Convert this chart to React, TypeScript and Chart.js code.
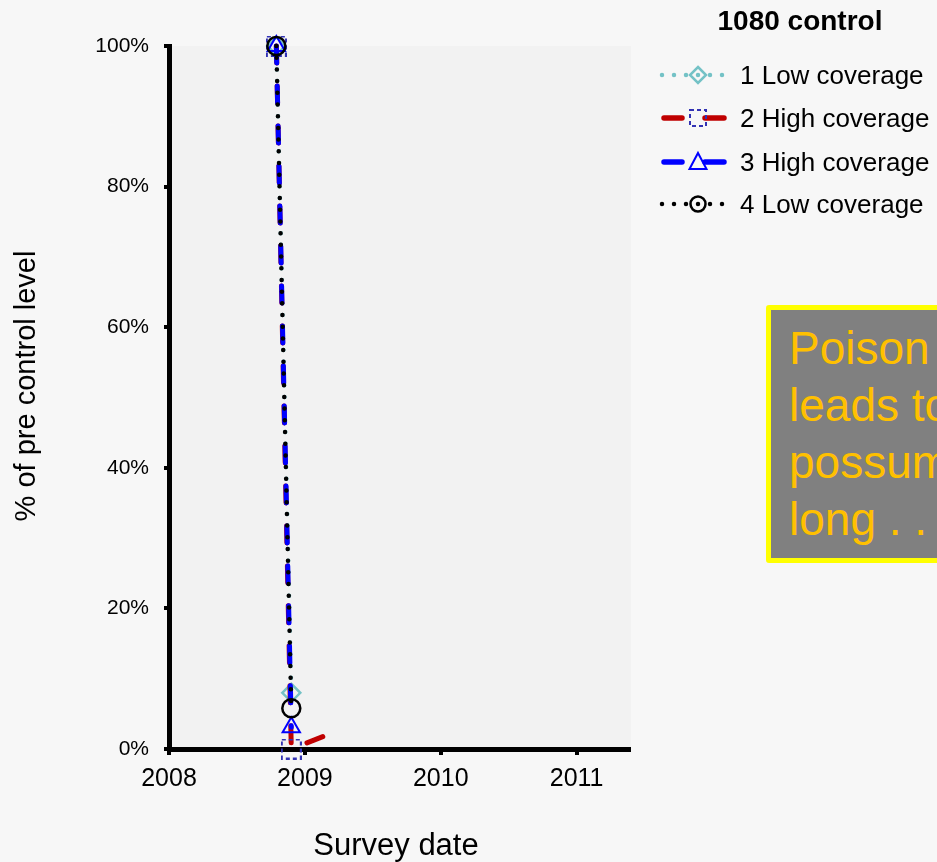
import React, { useEffect, useRef } from 'react';
import { Chart, registerables } from 'chart.js';

Chart.register(...registerables);

// Survey dates are decimal years; values are % of the pre-control level.
const seriesNames = ['1 Low coverage', '2 High coverage', '3 High coverage', '4 Low coverage'];
const site1Dates = [2008.79, 2008.9];
const site1Values = [100, 8.0];
const site2Dates = [2008.79, 2008.9, 2009.15];
const site2Values = [100, 0, 1.9];
const site3Dates = [2008.79, 2008.9];
const site3Values = [100, 3.1];
const site4Dates = [2008.79, 2008.9];
const site4Values = [100, 5.8];
const yearTicks = [2008, 2009, 2010, 2011];
const percentTicks = [0, 20, 40, 60, 80, 100];
const legendTitle = '1080 control';
const xAxisTitle = 'Survey date';
const yAxisTitle = '% of pre control level';
const noteLines = ['Poison', 'leads to', 'possum', 'long . . .'];

const FONT = '"Liberation Sans", Arial, sans-serif';
const TEAL = '#74c2c6';
const RED = '#c00000';
const BLUE = '#0000ff';
const NAVY = '#3232b4';
const BLACK = '#000000';

function dashedSquare(size: number, color: string): HTMLCanvasElement {
  const c = document.createElement('canvas');
  c.width = size;
  c.height = size;
  const g = c.getContext('2d')!;
  g.strokeStyle = color;
  g.lineWidth = 2;
  g.setLineDash([4, 3]);
  g.strokeRect(1, 1, size - 2, size - 2);
  return c;
}

const toPoints = (xs: number[], ys: number[]) => xs.map((x, i) => ({ x, y: ys[i] }));

const decorPlugin = {
  id: 'decor',
  beforeDraw(chart: any) {
    const { ctx, chartArea: a } = chart;
    ctx.save();
    ctx.fillStyle = '#f2f2f2';
    ctx.fillRect(a.left, a.top, a.right - a.left, a.bottom - a.top);
    ctx.restore();
  },
  afterDraw(chart: any) {
    const { ctx, chartArea: a } = chart;
    ctx.save();
    ctx.fillStyle = '#000';

    // axis titles
    ctx.font = `31px ${FONT}`;
    ctx.textAlign = 'center';
    ctx.textBaseline = 'alphabetic';
    ctx.fillText(xAxisTitle, (a.left + a.right) / 2 - 4, 855);

    ctx.save();
    ctx.translate(35, 386);
    ctx.rotate(-Math.PI / 2);
    ctx.font = `29px ${FONT}`;
    ctx.fillText(yAxisTitle, 0, 0);
    ctx.restore();

    // legend
    ctx.font = `bold 28px ${FONT}`;
    ctx.textAlign = 'center';
    ctx.fillText(legendTitle, 800, 30);

    const x0 = 662;
    const x1 = 726;
    const mx = 698;
    const rowY = [75, 118, 162, 204];

    const dotted = (y: number, color: string) => {
      ctx.save();
      ctx.strokeStyle = color;
      ctx.lineWidth = 4.5;
      ctx.lineCap = 'round';
      ctx.setLineDash([0, 12]);
      ctx.beginPath();
      ctx.moveTo(x0, y);
      ctx.lineTo(x1, y);
      ctx.stroke();
      ctx.restore();
    };
    const split = (y: number, color: string) => {
      ctx.save();
      ctx.strokeStyle = color;
      ctx.lineWidth = 5.5;
      ctx.lineCap = 'round';
      ctx.beginPath();
      ctx.moveTo(x0 + 2, y);
      ctx.lineTo(x0 + 20, y);
      ctx.moveTo(x0 + 43, y);
      ctx.lineTo(x1 - 2, y);
      ctx.stroke();
      ctx.restore();
    };

    // 1: teal dots with diamond
    dotted(rowY[0], TEAL);
    ctx.save();
    ctx.strokeStyle = TEAL;
    ctx.lineWidth = 2.5;
    ctx.beginPath();
    ctx.moveTo(mx, rowY[0] - 8);
    ctx.lineTo(mx + 8, rowY[0]);
    ctx.lineTo(mx, rowY[0] + 8);
    ctx.lineTo(mx - 8, rowY[0]);
    ctx.closePath();
    ctx.stroke();
    ctx.restore();

    // 2: red dashes with dashed square
    split(rowY[1], RED);
    const sq = dashedSquare(18, NAVY);
    ctx.drawImage(sq, mx - 9, rowY[1] - 9);

    // 3: blue dashes with triangle
    split(rowY[2], BLUE);
    ctx.save();
    ctx.strokeStyle = BLUE;
    ctx.lineWidth = 2;
    ctx.beginPath();
    ctx.moveTo(mx, rowY[2] - 9);
    ctx.lineTo(mx + 8.5, rowY[2] + 7);
    ctx.lineTo(mx - 8.5, rowY[2] + 7);
    ctx.closePath();
    ctx.stroke();
    ctx.restore();

    // 4: black dots with circle
    dotted(rowY[3], BLACK);
    ctx.save();
    ctx.strokeStyle = BLACK;
    ctx.lineWidth = 2.5;
    ctx.beginPath();
    ctx.arc(mx, rowY[3], 7.5, 0, Math.PI * 2);
    ctx.stroke();
    ctx.restore();

    ctx.font = `26px ${FONT}`;
    ctx.textAlign = 'left';
    seriesNames.forEach((name, i) => {
      ctx.fillText(name, 740, rowY[i] + 9);
    });

    ctx.restore();
  },
};

export default function App() {
  const canvasRef = useRef<HTMLCanvasElement | null>(null);

  useEffect(() => {
    const canvas = canvasRef.current;
    if (!canvas) return;

    const squareMark = dashedSquare(21, NAVY);
    const dotDash = [0, 11.7];
    const longDash = [17, 23];

    const chart = new Chart(canvas, {
      type: 'line',
      data: {
        datasets: [
          {
            label: seriesNames[0],
            data: toPoints(site1Dates, site1Values),
            borderColor: TEAL,
            borderWidth: 4.5,
            borderDash: dotDash,
            borderCapStyle: 'round',
            pointStyle: 'rectRot',
            pointRadius: 9,
            pointBorderWidth: 2.5,
            pointBorderColor: TEAL,
            pointBackgroundColor: 'transparent',
            clip: false,
            order: 4,
          },
          {
            label: seriesNames[1],
            data: toPoints(site2Dates, site2Values),
            borderColor: RED,
            borderWidth: 5,
            borderDash: longDash,
            borderCapStyle: 'round',
            pointStyle: squareMark,
            pointRadius: [10, 10, 0],
            clip: false,
            order: 3,
          },
          {
            label: seriesNames[2],
            data: toPoints(site3Dates, site3Values),
            borderColor: BLUE,
            borderWidth: 5,
            borderDash: longDash,
            borderCapStyle: 'round',
            pointStyle: 'triangle',
            pointRadius: 10,
            pointBorderWidth: 2,
            pointBorderColor: BLUE,
            pointBackgroundColor: 'transparent',
            clip: false,
            order: 2,
          },
          {
            label: seriesNames[3],
            data: toPoints(site4Dates, site4Values),
            borderColor: BLACK,
            borderWidth: 4.5,
            borderDash: dotDash,
            borderCapStyle: 'round',
            pointStyle: 'circle',
            pointRadius: 9,
            pointBorderWidth: 2.5,
            pointBorderColor: BLACK,
            pointBackgroundColor: 'transparent',
            clip: false,
            order: 1,
          },
        ],
      } as any,
      options: {
        responsive: false,
        animation: false,
        devicePixelRatio: 1,
        layout: { padding: { top: 46, right: 306, left: 0, bottom: 0 } },
        plugins: {
          legend: { display: false },
          tooltip: { enabled: false },
          title: { display: false },
        },
        elements: { line: { tension: 0 } },
        scales: {
          x: {
            type: 'linear',
            min: 2008,
            max: 2011.4,
            afterFit: (s: any) => {
              s.height = 113;
            },
            afterBuildTicks: (s: any) => {
              s.ticks = yearTicks.map((v) => ({ value: v }));
            },
            ticks: {
              color: '#000',
              font: { family: FONT, size: 25 },
              padding: 9,
              maxRotation: 0,
              autoSkip: false,
              callback: (v: any) => String(v),
            },
            grid: {
              drawOnChartArea: false,
              drawTicks: true,
              tickLength: 6,
              tickWidth: 4,
              tickColor: '#000',
              lineWidth: 0,
            },
            border: { display: true, color: '#000', width: 5 },
          },
          y: {
            type: 'linear',
            min: 0,
            max: 100,
            afterFit: (s: any) => {
              s.width = 169;
            },
            afterBuildTicks: (s: any) => {
              s.ticks = percentTicks.map((v) => ({ value: v }));
            },
            ticks: {
              color: '#000',
              font: { family: FONT, size: 21 },
              padding: 15,
              autoSkip: false,
              callback: (v: any) => `${v}%`,
            },
            grid: {
              drawOnChartArea: false,
              drawTicks: true,
              tickLength: 5,
              tickWidth: 4,
              tickColor: '#000',
              lineWidth: 0,
            },
            border: { display: true, color: '#000', width: 5 },
          },
        },
      } as any,
      plugins: [decorPlugin],
    });

    return () => {
      chart.destroy();
    };
  }, []);

  return (
    <div
      style={{
        position: 'fixed',
        left: 0,
        top: 0,
        width: 937,
        height: 862,
        overflow: 'hidden',
        background: '#f7f7f7',
        fontFamily: FONT,
      }}
    >
      <canvas
        ref={canvasRef}
        width={937}
        height={862}
        style={{ position: 'absolute', left: 0, top: 0, width: 937, height: 862 }}
      />
      <div
        style={{
          position: 'absolute',
          left: 766,
          top: 305,
          width: 300,
          height: 258,
          boxSizing: 'border-box',
          border: '5px solid #ffff00',
          borderRadius: 3,
          background: '#808080',
          color: '#ffc000',
          fontFamily: FONT,
          fontSize: 46,
          lineHeight: '57px',
          padding: '10px 0 0 18px',
          whiteSpace: 'pre',
        }}
      >
        {noteLines.map((line) => (
          <div key={line}>{line}</div>
        ))}
      </div>
    </div>
  );
}
